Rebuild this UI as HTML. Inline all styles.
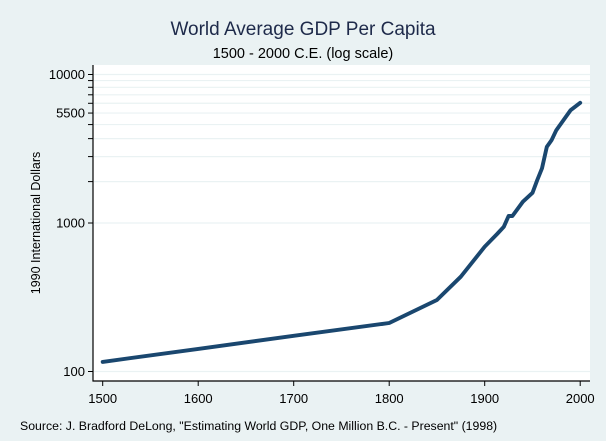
<!DOCTYPE html>
<html><head><meta charset="utf-8"><style>
html,body{margin:0;padding:0;background:#eaf2f3;}
svg{display:block;font-family:"Liberation Sans",sans-serif;}
</style></head><body>
<svg width="606" height="441" viewBox="0 0 606 441">
<rect x="0" y="0" width="606" height="441" fill="#eaf2f3"/>
<rect x="93" y="65" width="497" height="316" fill="#ffffff"/>
<text x="303" y="35" text-anchor="middle" font-size="19" fill="#1e2a4a">World Average GDP Per Capita</text>
<text x="303" y="58" text-anchor="middle" font-size="14.5" fill="#000">1500 - 2000 C.E. (log scale)</text>
<text transform="translate(40,223) rotate(-90)" text-anchor="middle" font-size="12.5" fill="#000">1990 International Dollars</text>
<text x="20" y="430" font-size="12.3" fill="#000">Source: J. Bradford DeLong, "Estimating World GDP, One Million B.C. - Present" (1998)</text>
<g id="grid"></g>
<g id="axes"></g>
<g id="series"></g>
</svg>
<script>
const years = [1500,1600,1700,1800,1850,1875,1900,1913,1920,1925,1929,1940,1950,1955,1960,1965,1970,1975,1980,1985,1990,2000];
const gdp = [116,142,174,212,303,435,692,843,943,1115,1115,1392,1596,1941,2336,3254,3605,4215,4680,5200,5750,6450];
const yTickLabels = [100,1000,5500,10000];
const yMinorTicks = [1900,2800,3700,4600,6400,7300,8200,9100];
const xTickLabels = [1500,1600,1700,1800,1900,2000];

const NS="http://www.w3.org/2000/svg";
function xs(v){return 102.7+(v-1500)*0.955;}
function ys(v){return 371.5-(Math.log10(v)-2)*148.5;}
function mk(tag,attrs,parent){const e=document.createElementNS(NS,tag);for(const k in attrs)e.setAttribute(k,attrs[k]);parent.appendChild(e);return e;}
const grid=document.getElementById('grid'),axes=document.getElementById('axes'),series=document.getElementById('series');

yTickLabels.concat(yMinorTicks).forEach(v=>{
  const y=ys(v);
  const g=mk('line',{x1:94,x2:590,y1:y,y2:y,stroke:'#eaf2f3','stroke-width':1.2},grid);
  
  
  const t=mk('line',{x1:88,x2:93,y1:y,y2:y,stroke:'#000','stroke-width':1},axes);
  
  
});
yTickLabels.forEach(v=>{
  const l=mk('text',{x:85,y:ys(v)+4.5,'text-anchor':'end','font-size':13,fill:'#000'},axes);
  l.textContent=v;
  
  
});
xTickLabels.forEach(v=>{
  const x=xs(v);
  const t=mk('line',{x1:x,x2:x,y1:381,y2:386,stroke:'#000','stroke-width':1},axes);
  
  
  const l=mk('text',{x:x,y:403,'text-anchor':'middle','font-size':13,fill:'#000'},axes);
  l.textContent=v;
  
  
});
const ya=mk('line',{x1:93,x2:93,y1:65,y2:381.5,stroke:'#000','stroke-width':1.2},axes);


const xa=mk('line',{x1:92.5,x2:590,y1:381,y2:381,stroke:'#000','stroke-width':1.2},axes);



const pts=years.map((yr,i)=>xs(yr).toFixed(1)+','+ys(gdp[i]).toFixed(1)).join(' ');
const line=mk('polyline',{points:pts,fill:'none',stroke:'#1a476f','stroke-width':3.9,'stroke-linejoin':'round','stroke-linecap':'round'},series);


</script>
</body></html>
